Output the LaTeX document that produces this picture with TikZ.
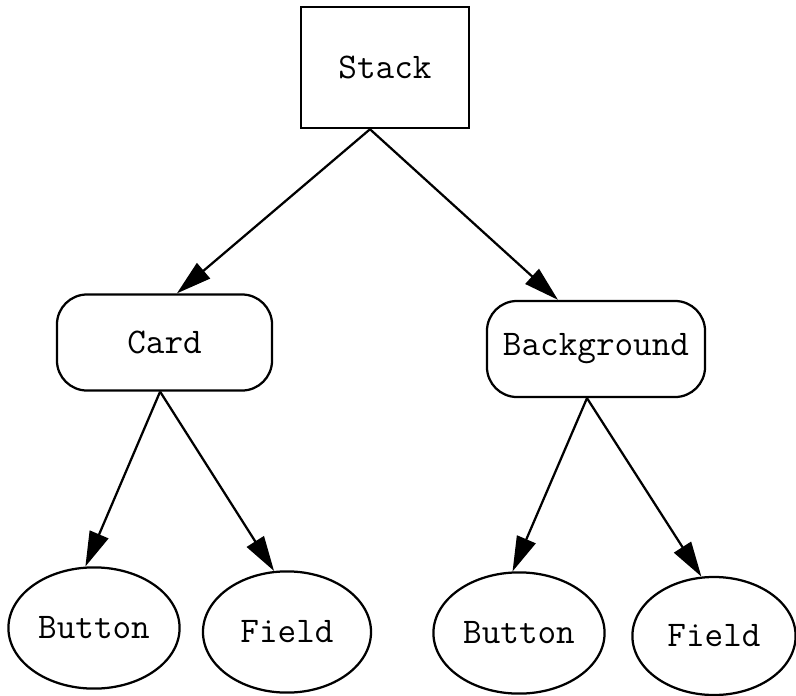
\documentclass[tikz,border=0pt]{standalone}
\usetikzlibrary{arrows.meta,shapes.geometric}

\begin{document}
\begin{tikzpicture}[x=0.025cm, y=-0.025cm, line width=1.6pt,
  font=\ttfamily\fontsize{25.7pt}{30pt}\selectfont,
  plainbox/.style={draw, rectangle, minimum width=4.2cm, minimum height=3.03cm},
  roundbox/.style={draw, rectangle, rounded corners=0.75cm, minimum width=#1, minimum height=2.4cm},
  roundbox/.default=5.4cm,
  oval/.style={draw, ellipse, minimum width=4.2cm, minimum height=3.03cm},
  >={Triangle[length=8.75mm, width=5mm]}]
\useasboundingbox (0,0) rectangle (796,696);
\node[plainbox] (stack) at (385,67.5) {Stack};
\node[roundbox=5.375cm] (card) at (164.5,342.5) {Card};
\node[roundbox=5.45cm] (bg) at (596,349) {Background};
\node[oval] (cbutton) at (94,628) {Button};
\node[oval] (cfield) at (287,632) {Field};
\node[oval] (bbutton) at (519,633) {Button};
\node[oval, minimum width=4.08cm, minimum height=2.95cm] (bfield) at (714,636) {Field};
\draw[->] ([xshift=-0.375cm]stack.south) -- ([xshift=0.31cm]card.north);
\draw[->] ([xshift=-0.375cm]stack.south) -- ([xshift=-0.95cm]bg.north);
\draw[->] ([xshift=-0.11cm]card.south) -- (cbutton.98);
\draw[->] ([xshift=-0.11cm]card.south) -- (cfield.102);
\draw[->] ([xshift=-0.225cm]bg.south) -- (bbutton.96);
\draw[->] ([xshift=-0.225cm]bg.south) -- (bfield.102);
\end{tikzpicture}
\end{document}
